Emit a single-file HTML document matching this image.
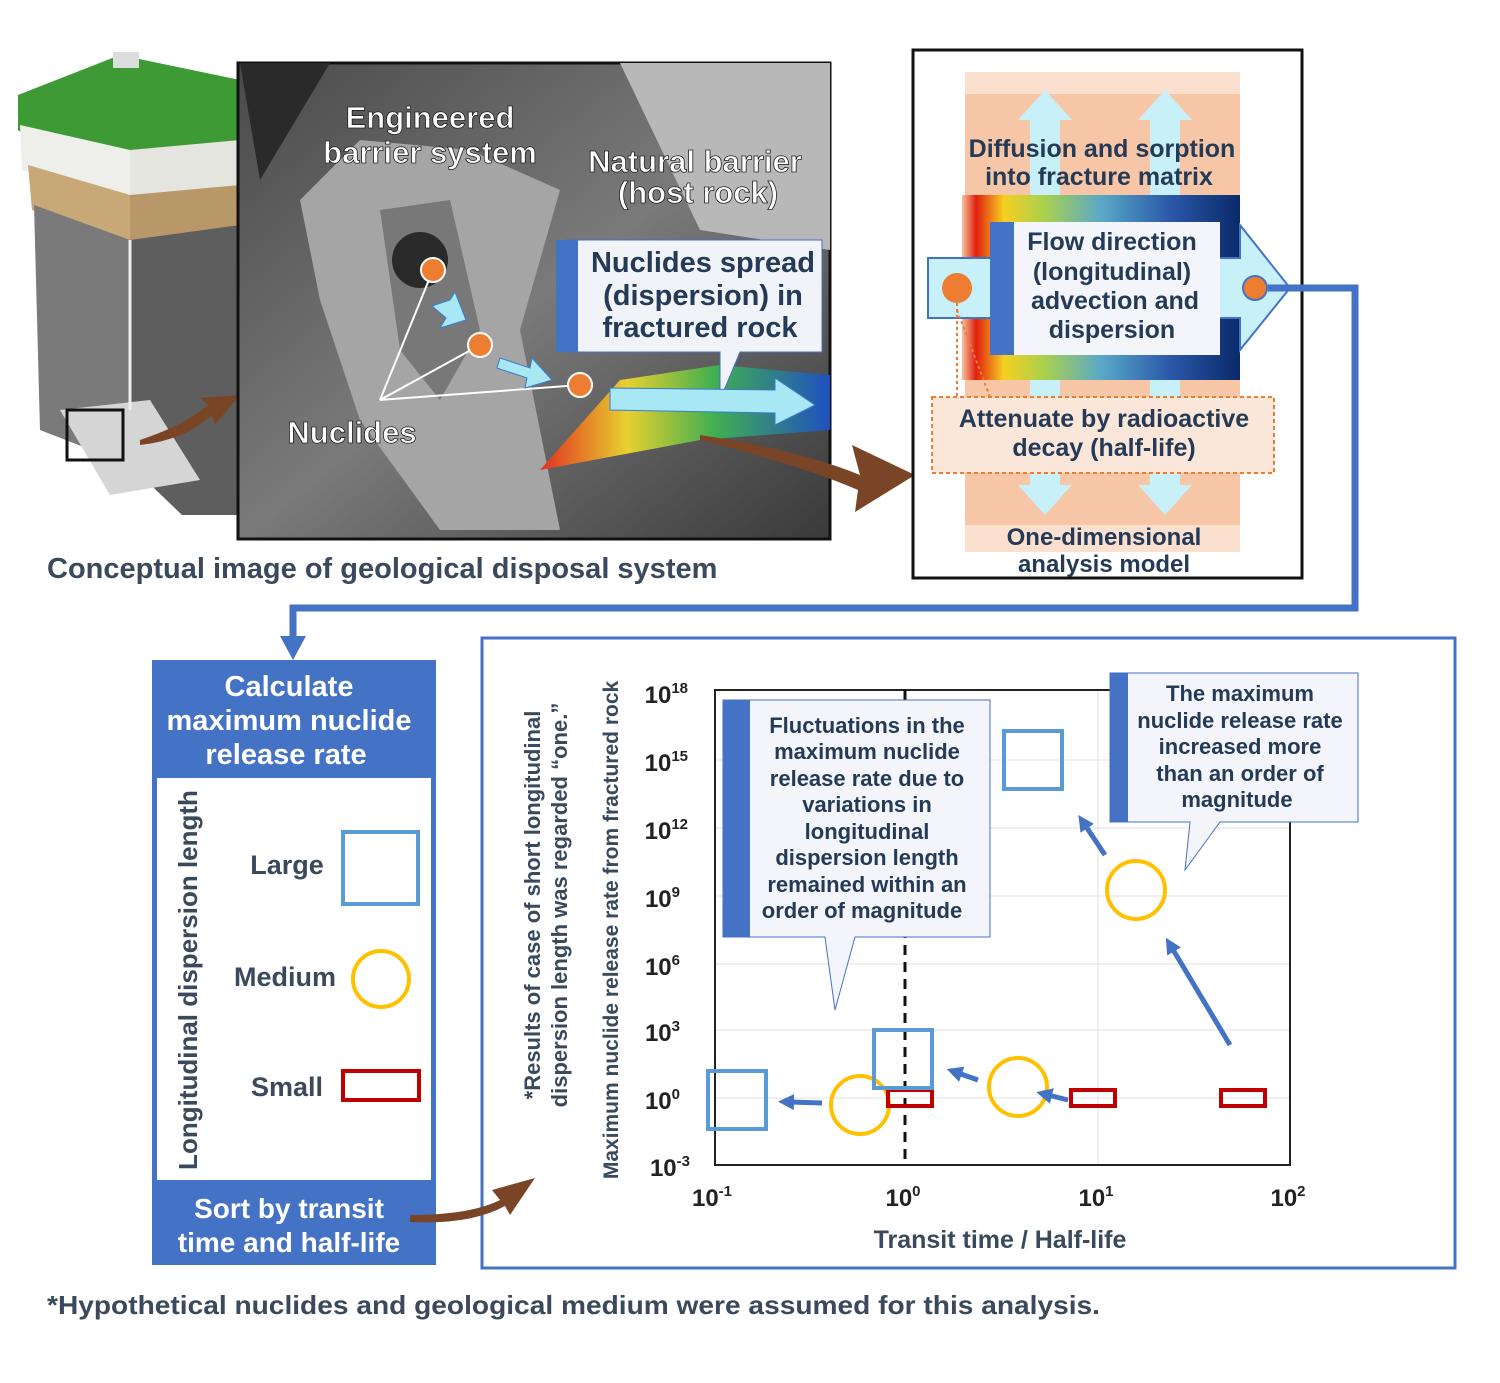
<!DOCTYPE html>
<html><head><meta charset="utf-8"><style>
body{margin:0;background:#fff}
svg text{font-family:"Liberation Sans",sans-serif;font-weight:bold}
</style></head><body>
<svg width="1500" height="1378" viewBox="0 0 1500 1378" xmlns="http://www.w3.org/2000/svg">
<defs>
<linearGradient id="band" x1="0" x2="1" y1="0" y2="0">
<stop offset="0" stop-color="#f3c49c"/><stop offset="0.05" stop-color="#e02010"/><stop offset="0.15" stop-color="#f5d020"/><stop offset="0.3" stop-color="#a8d050"/><stop offset="0.5" stop-color="#5aa8c8"/><stop offset="0.75" stop-color="#2a58a8"/><stop offset="1" stop-color="#0a2a6a"/></linearGradient>
<linearGradient id="gray" x1="0" x2="1" y1="0" y2="1"><stop offset="0" stop-color="#4a4a4a"/><stop offset="0.5" stop-color="#7a7a7a"/><stop offset="1" stop-color="#3a3a3a"/></linearGradient>
<linearGradient id="rain" x1="0" x2="1"><stop offset="0" stop-color="#e03020"/><stop offset="0.3" stop-color="#e8d030"/><stop offset="0.6" stop-color="#40b050"/><stop offset="1" stop-color="#2050c0"/></linearGradient>
<marker id="ah" markerWidth="20" markerHeight="20" refX="4" refY="8" orient="auto" markerUnits="userSpaceOnUse"><path d="M0,0 L16,8 L0,16 z" fill="#4472c4"/></marker>
</defs>

<!-- block diagram -->
<polygon points="18,95 120,55 240,80 240,200 130,215 18,130" fill="#3d9a35"/>
<polygon points="20,125 130,150 130,200 22,170" fill="#eeeeea"/>
<polygon points="130,150 240,140 240,190 130,200" fill="#e5e5e0"/>
<polygon points="28,165 130,195 130,245 32,210" fill="#c9a878"/>
<polygon points="130,195 240,185 240,230 130,245" fill="#b89868"/>
<polygon points="34,205 130,240 130,465 40,430" fill="#7a7a7a"/>
<polygon points="130,240 240,225 240,515 182,515 130,465" fill="#5e5e5e"/>
<polygon points="60,410 150,400 200,480 110,495" fill="#d5d5d5"/>
<rect x="113" y="52" width="26" height="16" fill="#ddd"/>
<line x1="130" y1="240" x2="130" y2="410" stroke="#eee" stroke-width="3"/>
<rect x="67" y="410" width="56" height="50" fill="none" stroke="#111" stroke-width="3"/>
<path d="M140,440 Q185,425 208,405 L200,398 L240,395 L215,425 L212,415 Q185,440 140,445 z" fill="#7a4526"/>

<!-- dark image -->
<rect x="238" y="63" width="592" height="476" fill="url(#gray)" stroke="#111" stroke-width="3"/>
<polygon points="300,200 360,140 470,150 560,190 520,330 560,530 440,530 360,420 320,300" fill="#a5a5a5"/>
<polygon points="380,210 450,200 480,330 440,400 400,350" fill="#787878"/>
<circle cx="420" cy="260" r="28" fill="#2a2a2a"/>
<polygon points="240,63 330,63 260,180" fill="#2a2a2a"/>
<polygon points="620,63 830,63 830,250 700,230" fill="#b8b8b8"/>
<polygon points="540,470 620,380 720,365 830,375 830,430 700,440" fill="url(#rain)"/>
<g fill="#fff" font-size="31" text-anchor="middle" stroke="#222" stroke-width="0.8">
<text x="430" y="128">Engineered</text>
<text x="430" y="163">barrier system</text>
<text x="695" y="172">Natural barrier</text>
<text x="698" y="203">(host rock)</text>
<text x="352" y="443">Nuclides</text>
</g>
<path d="M565,240 L822,240 L822,352 L740,352 L720,400 L720,352 L565,352 z" fill="#f0f3f8" stroke="#4472c4" stroke-width="1"/>
<rect x="556" y="240" width="22" height="112" fill="#4472c4"/>
<text x="703" y="272" fill="#243a56" font-size="29" text-anchor="middle">Nuclides spread</text>
<text x="703" y="305" fill="#243a56" font-size="29" text-anchor="middle">(dispersion) in</text>
<text x="700" y="337" fill="#243a56" font-size="29" text-anchor="middle">fractured rock</text>
<g stroke="#fff" stroke-width="2"><line x1="433" y1="270" x2="380" y2="400"/><line x1="480" y1="345" x2="380" y2="400"/><line x1="580" y1="385" x2="380" y2="400"/></g>
<circle cx="433" cy="270" r="12" fill="#ed7d31" stroke="#fff" stroke-width="2"/>
<circle cx="480" cy="345" r="12" fill="#ed7d31" stroke="#fff" stroke-width="2"/>
<circle cx="580" cy="385" r="12" fill="#ed7d31" stroke="#fff" stroke-width="2"/>
<path d="M432,306 L450,300 L455,292 L466,320 L440,328 L446,318 z" fill="#a8e8f5" stroke="#3a7ad0"/>
<path d="M500,358 L530,368 L532,358 L552,380 L525,388 L527,378 L497,368 z" fill="#a8e8f5" stroke="#3a7ad0"/>
<path d="M610,388 L775,390 L775,378 L815,405 L775,425 L775,413 L610,410 z" fill="#a8e8f5" stroke="#3a7ad0"/>
<path d="M700,435 Q800,450 860,475 L852,445 L915,475 L855,512 L858,490 Q800,465 700,440 z" fill="#7a4526"/>
<text x="47" y="578" fill="#3a4a5c" font-size="29">Conceptual image of geological disposal system</text>

<!-- right model -->
<rect x="913" y="50" width="389" height="528" fill="#fff" stroke="#111" stroke-width="3"/>
<rect x="965" y="72" width="275" height="480" fill="#f6c6a6"/>
<rect x="965" y="72" width="275" height="22" fill="#fbe0d0"/>
<rect x="965" y="525" width="275" height="27" fill="#fbe0d0"/>
<g fill="#c8f0f8">
<polygon points="1030,195 1030,120 1018,120 1045,90 1072,120 1060,120 1060,195"/>
<polygon points="1150,195 1150,120 1138,120 1165,90 1192,120 1180,120 1180,195"/>
<polygon points="1030,380 1030,485 1018,485 1045,515 1072,485 1060,485 1060,380"/>
<polygon points="1150,380 1150,485 1138,485 1165,515 1192,485 1180,485 1180,380"/>
</g>
<rect x="962" y="195" width="278" height="185" fill="url(#band)"/>
<text x="1102" y="157" fill="#243a56" font-size="25" text-anchor="middle">Diffusion and sorption</text>
<text x="1099" y="185" fill="#243a56" font-size="25" text-anchor="middle">into fracture matrix</text>
<polygon points="928,258 1240,258 1240,225 1290,288 1240,350 1240,318 928,318" fill="#c8f0f8" stroke="#4472c4" stroke-width="2"/>
<rect x="990" y="222" width="230" height="133" fill="#f3f5fa"/>
<rect x="990" y="222" width="24" height="133" fill="#4472c4"/>
<text x="1112" y="250" fill="#243a56" font-size="25" text-anchor="middle">Flow direction</text>
<text x="1112" y="280" fill="#243a56" font-size="25" text-anchor="middle">(longitudinal)</text>
<text x="1115" y="309" fill="#243a56" font-size="25" text-anchor="middle">advection and</text>
<text x="1112" y="338" fill="#243a56" font-size="25" text-anchor="middle">dispersion</text>
<circle cx="957" cy="288" r="15" fill="#ed7d31"/>
<circle cx="1255" cy="288" r="12" fill="#ed7d31" stroke="#4472c4" stroke-width="2"/>
<rect x="932" y="397" width="342" height="76" fill="#fbe6da" stroke="#ed7d31" stroke-width="2" stroke-dasharray="4,3"/>
<path d="M957,303 L957,397 M957,310 L990,397" stroke="#ed7d31" stroke-width="2" stroke-dasharray="3,3" fill="none"/>
<text x="1104" y="427" fill="#243a56" font-size="25" text-anchor="middle">Attenuate by radioactive</text>
<text x="1104" y="456" fill="#243a56" font-size="25" text-anchor="middle">decay (half-life)</text>
<text x="1104" y="545" fill="#243a56" font-size="24" text-anchor="middle">One-dimensional</text>
<text x="1104" y="572" fill="#243a56" font-size="24" text-anchor="middle">analysis model</text>

<!-- connector -->
<polyline points="1268,288 1355,288 1355,608 293,608 293,640" fill="none" stroke="#4472c4" stroke-width="7"/>
<polygon points="280,636 306,636 293,660" fill="#4472c4"/>

<!-- left panel -->
<rect x="152" y="660" width="284" height="605" fill="#4472c4"/>
<rect x="157" y="778" width="274" height="402" fill="#fff"/>
<text x="289" y="696" fill="#fff" font-size="29" text-anchor="middle">Calculate</text>
<text x="289" y="730" fill="#fff" font-size="29" text-anchor="middle">maximum nuclide</text>
<text x="286" y="764" fill="#fff" font-size="29" text-anchor="middle">release rate</text>
<text transform="translate(197,980) rotate(-90)" fill="#3a4a5c" font-size="26" text-anchor="middle">Longitudinal dispersion length</text>
<text x="287" y="874" fill="#3a4a5c" font-size="27" text-anchor="middle">Large</text>
<text x="285" y="986" fill="#3a4a5c" font-size="27" text-anchor="middle">Medium</text>
<text x="287" y="1096" fill="#3a4a5c" font-size="27" text-anchor="middle">Small</text>
<rect x="343" y="832" width="75" height="72" fill="none" stroke="#5b9bd5" stroke-width="4"/>
<circle cx="381" cy="979" r="28" fill="none" stroke="#ffc000" stroke-width="4"/>
<rect x="343" y="1071" width="76" height="29" fill="none" stroke="#c00000" stroke-width="4"/>
<text x="289" y="1218" fill="#fff" font-size="28" text-anchor="middle">Sort by transit</text>
<text x="289" y="1252" fill="#fff" font-size="28" text-anchor="middle">time and half-life</text>

<!-- chart -->
<rect x="482" y="638" width="973" height="630" fill="#fff" stroke="#4472c4" stroke-width="3"/>
<path d="M410,1215 Q470,1215 500,1200 L492,1190 L535,1178 L510,1215 L505,1206 Q470,1225 410,1222 z" fill="#7a4526"/>
<g stroke="#e0e0e0" stroke-width="1">
<line x1="715" y1="760" x2="1290" y2="760"/><line x1="715" y1="828" x2="1290" y2="828"/><line x1="715" y1="896" x2="1290" y2="896"/><line x1="715" y1="964" x2="1290" y2="964"/><line x1="715" y1="1030" x2="1290" y2="1030"/><line x1="715" y1="1098" x2="1290" y2="1098"/>
<line x1="1098" y1="690" x2="1098" y2="1165"/>
</g>
<rect x="715" y="690" width="575" height="475" fill="none" stroke="#222" stroke-width="2"/>
<line x1="905" y1="690" x2="905" y2="1165" stroke="#111" stroke-width="3" stroke-dasharray="10,7"/>
<g fill="#222" font-size="24" text-anchor="end">
<text x="688" y="703">10<tspan font-size="15" dy="-10">18</tspan></text>
<text x="688" y="771">10<tspan font-size="15" dy="-10">15</tspan></text>
<text x="688" y="839">10<tspan font-size="15" dy="-10">12</tspan></text>
<text x="680" y="907">10<tspan font-size="15" dy="-10">9</tspan></text>
<text x="680" y="975">10<tspan font-size="15" dy="-10">6</tspan></text>
<text x="680" y="1041">10<tspan font-size="15" dy="-10">3</tspan></text>
<text x="680" y="1109">10<tspan font-size="15" dy="-10">0</tspan></text>
<text x="690" y="1176">10<tspan font-size="15" dy="-10">-3</tspan></text>
</g>
<g fill="#222" font-size="24" text-anchor="middle">
<text x="712" y="1206">10<tspan font-size="15" dy="-10">-1</tspan></text>
<text x="903" y="1206">10<tspan font-size="15" dy="-10">0</tspan></text>
<text x="1096" y="1206">10<tspan font-size="15" dy="-10">1</tspan></text>
<text x="1288" y="1206">10<tspan font-size="15" dy="-10">2</tspan></text>
</g>
<text x="1000" y="1248" fill="#3a4a5c" font-size="25" text-anchor="middle">Transit time / Half-life</text>
<text transform="translate(618,930) rotate(-90)" fill="#3a4a5c" font-size="21" text-anchor="middle">Maximum nuclide release rate from fractured rock</text>
<text transform="translate(540,905) rotate(-90)" fill="#3a4a5c" font-size="22" text-anchor="middle">*Results of case of short longitudinal</text>
<text transform="translate(567,905) rotate(-90)" fill="#3a4a5c" font-size="22" text-anchor="middle">dispersion length was regarded “one.”</text>

<g fill="none" stroke-width="4">
<rect x="708" y="1071" width="58" height="58" stroke="#5b9bd5"/>
<circle cx="860" cy="1105" r="29" stroke="#ffc000"/>
<rect x="888" y="1090" width="44" height="16" stroke="#c00000"/>
<rect x="874" y="1030" width="58" height="58" stroke="#5b9bd5"/>
<circle cx="1018" cy="1087" r="29" stroke="#ffc000"/>
<rect x="1071" y="1090" width="44" height="16" stroke="#c00000"/>
<rect x="1221" y="1090" width="44" height="16" stroke="#c00000"/>
<rect x="1004" y="731" width="58" height="58" stroke="#5b9bd5"/>
<circle cx="1136" cy="890" r="29" stroke="#ffc000"/>
</g>
<g stroke="#4472c4" stroke-width="5" marker-end="url(#ah)">
<line x1="822" y1="1103" x2="790" y2="1102"/>
<line x1="978" y1="1080" x2="958" y2="1073"/>
<line x1="1068" y1="1100" x2="1048" y2="1095"/>
<line x1="1230" y1="1045" x2="1172" y2="948"/>
<line x1="1105" y1="855" x2="1085" y2="825"/>
</g>
<path d="M723,700 L990,700 L990,937 L855,937 L835,1010 L825,937 L723,937 z" fill="#f3f5fa" stroke="#4472c4" stroke-width="1"/>
<rect x="723" y="700" width="27" height="237" fill="#4472c4"/>
<g fill="#243a56" font-size="22" text-anchor="middle">
<text x="867" y="733">Fluctuations in the</text>
<text x="867" y="759">maximum nuclide</text>
<text x="867" y="786">release rate due to</text>
<text x="867" y="812">variations in</text>
<text x="867" y="839">longitudinal</text>
<text x="867" y="865">dispersion length</text>
<text x="867" y="892">remained within an</text>
<text x="862" y="918">order of magnitude</text>
</g>
<path d="M1110,673 L1358,673 L1358,822 L1220,822 L1185,870 L1190,822 L1110,822 z" fill="#f3f5fa" stroke="#4472c4" stroke-width="1"/>
<rect x="1110" y="673" width="18" height="149" fill="#4472c4"/>
<g fill="#243a56" font-size="22" text-anchor="middle">
<text x="1240" y="701">The maximum</text>
<text x="1240" y="728">nuclide release rate</text>
<text x="1240" y="754">increased more</text>
<text x="1240" y="781">than an order of</text>
<text x="1237" y="807">magnitude</text>
</g>

<text x="47" y="1314" fill="#3a4a5c" font-size="26" textLength="1053" lengthAdjust="spacingAndGlyphs">*Hypothetical nuclides and geological medium were assumed for this analysis.</text>
</svg>
</body></html>
